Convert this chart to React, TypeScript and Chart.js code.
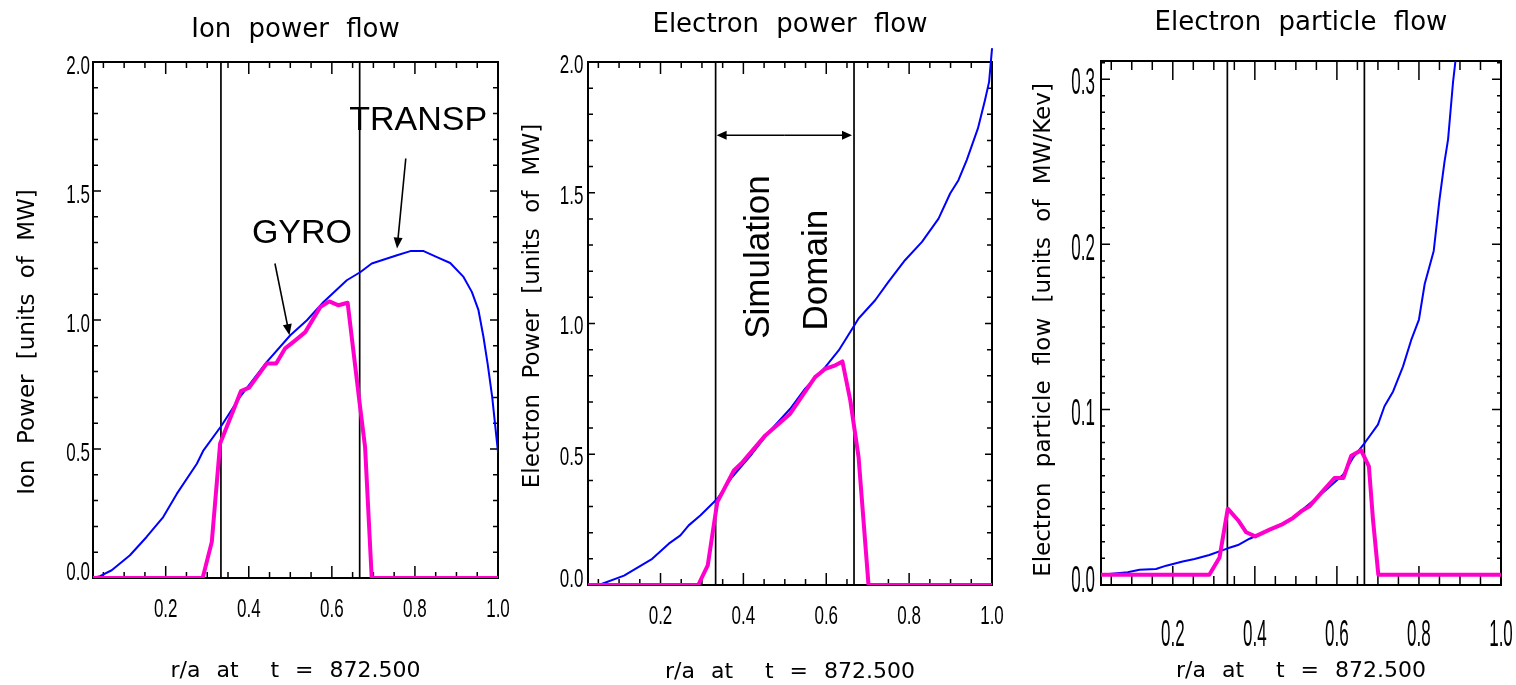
import React, { useEffect, useRef } from "react";
import { Chart, registerables } from "chart.js";

Chart.register(...registerables);

// ---------- axis ticks ----------
const rTicks = [0.2, 0.4, 0.6, 0.8, 1.0];
const powerTicks = [0.0, 0.5, 1.0, 1.5, 2.0];
const particleTicks = [0.0, 0.1, 0.2, 0.3];
const domainEdges = [0.333, 0.667];

// ---------- Ion power flow ----------
const ionTranspR = [0.024, 0.042, 0.07, 0.114, 0.154, 0.194, 0.227, 0.275, 0.291, 0.335, 0.379, 0.443, 0.5, 0.54, 0.58, 0.636, 0.669, 0.696, 0.757, 0.789, 0.821, 0.853, 0.885, 0.917, 0.937, 0.953, 0.965, 0.975, 0.986, 1.0];
const ionTranspP = [0.0, 0.007, 0.03, 0.088, 0.159, 0.236, 0.327, 0.443, 0.495, 0.592, 0.702, 0.837, 0.941, 0.999, 1.07, 1.154, 1.186, 1.219, 1.251, 1.267, 1.267, 1.244, 1.221, 1.167, 1.109, 1.038, 0.934, 0.831, 0.702, 0.488];
const ionGyroR = [0.024, 0.289, 0.311, 0.331, 0.363, 0.381, 0.401, 0.443, 0.466, 0.487, 0.512, 0.536, 0.572, 0.594, 0.616, 0.638, 0.668, 0.68, 0.696, 1.0];
const ionGyroP = [0.0, 0.0, 0.14, 0.521, 0.65, 0.724, 0.738, 0.831, 0.831, 0.889, 0.921, 0.953, 1.05, 1.072, 1.057, 1.067, 0.663, 0.508, 0.0, 0.0];

// ---------- Electron power flow ----------
const elecTranspR = [0.051, 0.112, 0.18, 0.22, 0.248, 0.268, 0.296, 0.337, 0.373, 0.421, 0.465, 0.513, 0.549, 0.598, 0.63, 0.668, 0.678, 0.718, 0.75, 0.79, 0.831, 0.871, 0.899, 0.919, 0.939, 0.966, 0.983, 0.993, 1.0];
const elecTranspP = [0.0, 0.036, 0.1, 0.158, 0.19, 0.228, 0.266, 0.33, 0.413, 0.502, 0.591, 0.674, 0.751, 0.834, 0.897, 0.993, 1.019, 1.089, 1.159, 1.242, 1.312, 1.401, 1.497, 1.548, 1.625, 1.746, 1.854, 1.924, 2.05];
const elecGyroR = [0.025, 0.291, 0.314, 0.337, 0.377, 0.398, 0.453, 0.513, 0.573, 0.598, 0.622, 0.639, 0.658, 0.678, 0.702, 1.0];
const elecGyroP = [0.0, 0.0, 0.075, 0.317, 0.438, 0.47, 0.572, 0.655, 0.795, 0.827, 0.84, 0.855, 0.706, 0.489, 0.0, 0.0];

// ---------- Electron particle flow ----------
const partTranspR = [0.025, 0.09, 0.119, 0.159, 0.184, 0.224, 0.253, 0.289, 0.334, 0.359, 0.387, 0.436, 0.484, 0.529, 0.574, 0.615, 0.639, 0.669, 0.7, 0.716, 0.737, 0.761, 0.781, 0.8, 0.814, 0.836, 0.85, 0.862, 0.871, 0.883, 0.889];
const partTranspF = [0.0, 0.0015, 0.003, 0.0035, 0.0055, 0.008, 0.0095, 0.012, 0.016, 0.018, 0.0218, 0.027, 0.033, 0.042, 0.0515, 0.0606, 0.0707, 0.0802, 0.0909, 0.102, 0.111, 0.126, 0.142, 0.1545, 0.176, 0.196, 0.227, 0.2495, 0.2636, 0.298, 0.311];
const partGyroR = [0.025, 0.289, 0.314, 0.334, 0.359, 0.379, 0.401, 0.436, 0.468, 0.493, 0.513, 0.533, 0.558, 0.594, 0.616, 0.635, 0.659, 0.678, 0.688, 0.701, 1.0];
const partGyroF = [0.0, 0.0, 0.0105, 0.04, 0.033, 0.0257, 0.0232, 0.0273, 0.0307, 0.0344, 0.0384, 0.0414, 0.0485, 0.0586, 0.0586, 0.0721, 0.0753, 0.0656, 0.0333, 0.0, 0.0];

// ---------- annotations (data coordinates) ----------
const ionNotes = [
  { text: "GYRO", r: 0.528, v: 1.336 },
  { text: "TRANSP", r: 0.808, v: 1.774 },
];
const ionArrows = [
  { from: [0.463, 1.219], to: [0.498, 0.941] },
  { from: [0.778, 1.626], to: [0.757, 1.277] },
];
const domainArrowLevel = 1.72;
const elecNotes = [
  { text: "Simulation", r: 0.438, v: 1.254 },
  { text: "Domain", r: 0.5795, v: 1.204 },
];

const X_TITLE = "r/a at  t = 872.500";
const BLUE = "#0000ff";
const MAGENTA = "#ff00cc";
const W = 1516;
const H = 685;
const TITLE_FONT = "'DejaVu Sans', 'Liberation Sans', sans-serif";
const TICK_FONT = "'Liberation Sans', Arial, sans-serif";
const NOTE_FONT = "'Liberation Sans', Arial, sans-serif";

function toPoints(xs: number[], ys: number[]) {
  return xs.map((x, i) => ({ x, y: ys[i] }));
}

function stepValues(min: number, max: number, step: number) {
  const out: number[] = [];
  for (let k = Math.ceil(min / step - 1e-9); k * step <= max + 1e-9; k++) out.push(+(k * step).toFixed(6));
  return out;
}

function drawArrow(ctx: any, x1: number, y1: number, x2: number, y2: number, headLen = 11, headHalf = 4.5) {
  const a = Math.atan2(y2 - y1, x2 - x1);
  const c = Math.cos(a);
  const s = Math.sin(a);
  ctx.beginPath();
  ctx.moveTo(x1, y1);
  ctx.lineTo(x2 - c * headLen * 0.7, y2 - s * headLen * 0.7);
  ctx.stroke();
  ctx.beginPath();
  ctx.moveTo(x2, y2);
  ctx.lineTo(x2 - headLen * c + headHalf * s, y2 - headLen * s - headHalf * c);
  ctx.lineTo(x2 - headLen * c - headHalf * s, y2 - headLen * s + headHalf * c);
  ctx.closePath();
  ctx.fill();
}

function drawIonNotes(chart: any) {
  const { ctx, scales } = chart;
  const x = scales.x;
  const y = scales.y;
  ctx.save();
  ctx.fillStyle = "#000";
  ctx.strokeStyle = "#000";
  ctx.lineWidth = 1.6;
  ctx.font = `34px ${NOTE_FONT}`;
  ctx.textAlign = "center";
  ctx.textBaseline = "middle";
  ionNotes.forEach((n) => ctx.fillText(n.text, x.getPixelForValue(n.r), y.getPixelForValue(n.v)));
  ionArrows.forEach((a) =>
    drawArrow(ctx, x.getPixelForValue(a.from[0]), y.getPixelForValue(a.from[1]), x.getPixelForValue(a.to[0]), y.getPixelForValue(a.to[1]), 11, 4.5)
  );
  ctx.restore();
}

function drawElecNotes(chart: any) {
  const { ctx, scales } = chart;
  const x = scales.x;
  const y = scales.y;
  ctx.save();
  ctx.fillStyle = "#000";
  ctx.strokeStyle = "#000";
  ctx.lineWidth = 1.6;
  const yy = y.getPixelForValue(domainArrowLevel);
  const xa = x.getPixelForValue(domainEdges[0]);
  const xb = x.getPixelForValue(domainEdges[1]);
  const mid = (xa + xb) / 2;
  drawArrow(ctx, mid, yy, xa + 1, yy, 10, 4.5);
  drawArrow(ctx, mid, yy, xb - 2, yy, 10, 4.5);
  ctx.font = `35px ${NOTE_FONT}`;
  ctx.textAlign = "center";
  ctx.textBaseline = "middle";
  elecNotes.forEach((n) => {
    ctx.save();
    ctx.translate(x.getPixelForValue(n.r), y.getPixelForValue(n.v));
    ctx.rotate(-Math.PI / 2);
    ctx.fillText(n.text, 0, 0);
    ctx.restore();
  });
  ctx.restore();
}

const panels = [
  {
    key: "ion",
    title: "Ion power flow",
    yTitle: "Ion Power [units of MW]",
    transpR: ionTranspR, transpV: ionTranspP, gyroR: ionGyroR, gyroV: ionGyroP,
    yMin: 0, yMax: 2.0, yTicks: powerTicks, yMinorStep: 0.1,
    padLeft: 0, plotLeft: 93, plotRight: 498, plotTop: 62, plotBottom: 578,
    titlePadTop: 15, yTitleX: 28.5, yTitleY: 342, xTitlePadBottom: 3,
    labelSize: 25, labelStretch: 0.68, yLabelGap: 3, xLabelDrop: 30, labelDy: 3, zeroLabelDy: -6.5,
    xMajorLen: 12, xMinorLen: 6, yMajorLen: 8, yMinorLen: 5,
    blueClip: true, notes: drawIonNotes,
  },
  {
    key: "elec",
    title: "Electron power flow",
    yTitle: "Electron Power [units of MW]",
    transpR: elecTranspR, transpV: elecTranspP, gyroR: elecGyroR, gyroV: elecGyroP,
    yMin: 0, yMax: 2.0, yTicks: powerTicks, yMinorStep: 0.1,
    padLeft: 505, plotLeft: 588, plotRight: 992, plotTop: 62, plotBottom: 585,
    titlePadTop: 10, yTitleX: 533.5, yTitleY: 306, xTitlePadBottom: 2,
    labelSize: 25, labelStretch: 0.68, yLabelGap: 4.5, xLabelDrop: 30, labelDy: 2, zeroLabelDy: -6.5,
    xMajorLen: 12, xMinorLen: 6, yMajorLen: 7, yMinorLen: 5,
    blueClip: false, notes: drawElecNotes,
  },
  {
    key: "part",
    title: "Electron particle flow",
    yTitle: "Electron particle flow [units of MW/Kev]",
    transpR: partTranspR, transpV: partTranspF, gyroR: partGyroR, gyroV: partGyroF,
    yMin: -0.0062, yMax: 0.311, yTicks: particleTicks, yMinorStep: 0.01,
    padLeft: 1005, plotLeft: 1101, plotRight: 1501, plotTop: 61, plotBottom: 585,
    titlePadTop: 8, yTitleX: 1044, yTitleY: 330, xTitlePadBottom: 3,
    labelSize: 37, labelStretch: 0.46, yLabelGap: 6, xLabelDrop: 48, labelDy: 2, zeroLabelDy: 4,
    xMajorLen: 19, xMinorLen: 9, yMajorLen: 9, yMinorLen: 4,
    blueClip: true, notes: null as any,
  },
];

function drawStretched(ctx: any, text: string, x: number, yCenter: number, size: number, stretch: number, align: string) {
  const w = ctx.measureText(text).width * stretch;
  const left = align === "right" ? x - w : x - w / 2;
  ctx.save();
  ctx.translate(left, yCenter + size * 0.358);
  ctx.scale(stretch, 1);
  ctx.textAlign = "left";
  ctx.textBaseline = "alphabetic";
  ctx.fillText(text, 0, 0);
  ctx.restore();
}

function framePlugin(p: any) {
  return {
    id: "idlFrame",
    beforeDraw(chart: any) {
      chart.ctx.wordSpacing = "9px";
    },
    beforeDatasetsDraw(chart: any) {
      const { ctx, chartArea: a, scales } = chart;
      const x = scales.x;
      const y = scales.y;
      ctx.save();
      ctx.strokeStyle = "#000";
      ctx.lineWidth = 2;
      ctx.strokeRect(a.left, a.top, a.right - a.left, a.bottom - a.top);
      ctx.lineWidth = 1.5;
      ctx.beginPath();
      const xTick = (v: number, len: number) => {
        const px = x.getPixelForValue(v);
        ctx.moveTo(px, a.bottom);
        ctx.lineTo(px, a.bottom - len);
        ctx.moveTo(px, a.top);
        ctx.lineTo(px, a.top + len);
      };
      const yTick = (v: number, len: number) => {
        const py = y.getPixelForValue(v);
        ctx.moveTo(a.left, py);
        ctx.lineTo(a.left + len, py);
        ctx.moveTo(a.right, py);
        ctx.lineTo(a.right - len, py);
      };
      stepValues(0.025, 1.0, 0.05).forEach((v) => xTick(v, p.xMinorLen));
      rTicks.forEach((v) => xTick(v, p.xMajorLen));
      stepValues(p.yMin, p.yMax, p.yMinorStep).forEach((v) => yTick(v, p.yMinorLen));
      p.yTicks.forEach((v: number) => yTick(v, p.yMajorLen));
      ctx.stroke();

      // tick labels (condensed, like the IDL vector font)
      ctx.fillStyle = "#000";
      ctx.wordSpacing = "0px";
      ctx.font = `${p.labelSize}px ${TICK_FONT}`;
      rTicks.forEach((v) => {
        drawStretched(ctx, v.toFixed(1), x.getPixelForValue(v), a.bottom + p.xLabelDrop, p.labelSize, p.labelStretch, "center");
      });
      p.yTicks.forEach((v: number) => {
        const dy = v === 0 ? p.zeroLabelDy : p.labelDy;
        drawStretched(ctx, v.toFixed(1), a.left - p.yLabelGap, y.getPixelForValue(v) + dy, p.labelSize, p.labelStretch, "right");
      });

      // y axis title
      ctx.wordSpacing = "8px";
      ctx.font = `23px ${TITLE_FONT}`;
      ctx.textAlign = "center";
      ctx.textBaseline = "middle";
      ctx.translate(p.yTitleX, p.yTitleY);
      ctx.rotate(-Math.PI / 2);
      ctx.fillText(p.yTitle, 0, 0);
      ctx.restore();
    },
    afterDatasetsDraw(chart: any) {
      if (p.notes) p.notes(chart);
    },
  };
}

function buildConfig(p: any): any {
  const lineBase = { pointRadius: 0, tension: 0, borderJoinStyle: "round", borderCapStyle: "round", fill: false };
  return {
    type: "line",
    data: {
      datasets: [
        { ...lineBase, label: "GYRO", data: toPoints(p.gyroR, p.gyroV), borderColor: MAGENTA, borderWidth: 4, order: 0 },
        { ...lineBase, label: "TRANSP", data: toPoints(p.transpR, p.transpV), borderColor: BLUE, borderWidth: 2, order: 1, clip: p.blueClip ? undefined : false },
        ...domainEdges.map((e, i) => ({
          ...lineBase,
          label: "edge" + i,
          data: [{ x: e, y: p.yMin }, { x: e, y: p.yMax }],
          borderColor: "#000",
          borderWidth: 1.7,
          order: 2,
        })),
      ],
    },
    options: {
      responsive: false,
      animation: false,
      devicePixelRatio: 1,
      events: [],
      layout: { padding: { left: p.padLeft, right: W - p.plotRight, top: 0, bottom: 0 } },
      plugins: {
        legend: { display: false },
        tooltip: { enabled: false },
        title: {
          display: true,
          text: p.title,
          fullSize: false,
          color: "#000",
          font: { family: TITLE_FONT, size: 26, weight: "normal", lineHeight: 1.2 },
          padding: { top: p.titlePadTop, bottom: p.plotTop - p.titlePadTop - 31.2 },
        },
      },
      scales: {
        x: {
          type: "linear",
          min: 0.025,
          max: 1.0,
          grid: { display: false, drawTicks: false, tickLength: 0 },
          border: { display: false },
          afterBuildTicks: (s: any) => {
            s.ticks = rTicks.map((value) => ({ value }));
          },
          afterFit: (s: any) => {
            s.height = H - p.plotBottom;
            s.paddingLeft = 0;
            s.paddingRight = 0;
          },
          ticks: { display: false },
          title: {
            display: true,
            text: X_TITLE,
            color: "#000",
            font: { family: TITLE_FONT, size: 22, weight: "normal", lineHeight: 1 },
            padding: { top: 0, bottom: p.xTitlePadBottom },
          },
        },
        y: {
          type: "linear",
          min: p.yMin,
          max: p.yMax,
          grid: { display: false, drawTicks: false, tickLength: 0 },
          border: { display: false },
          afterBuildTicks: (s: any) => {
            s.ticks = p.yTicks.map((value: number) => ({ value }));
          },
          afterFit: (s: any) => {
            s.width = p.plotLeft - p.padLeft;
            s.paddingTop = 0;
            s.paddingBottom = 0;
          },
          ticks: { display: false },
          title: { display: false },
        },
      },
    },
    plugins: [framePlugin(p)],
  };
}

function PanelChart({ panel }: { panel: any }) {
  const ref = useRef<HTMLCanvasElement>(null);
  useEffect(() => {
    if (!ref.current) return;
    const chart = new Chart(ref.current, buildConfig(panel));
    return () => chart.destroy();
  }, [panel]);
  return (
    <canvas
      ref={ref}
      width={W}
      height={H}
      style={{ position: "absolute", left: 0, top: 0, width: W, height: H }}
    />
  );
}

export default function App() {
  return (
    <div style={{ position: "fixed", left: 0, top: 0, width: W, height: H, background: "#fff", overflow: "hidden" }}>
      {panels.map((p) => (
        <PanelChart key={p.key} panel={p} />
      ))}
    </div>
  );
}
